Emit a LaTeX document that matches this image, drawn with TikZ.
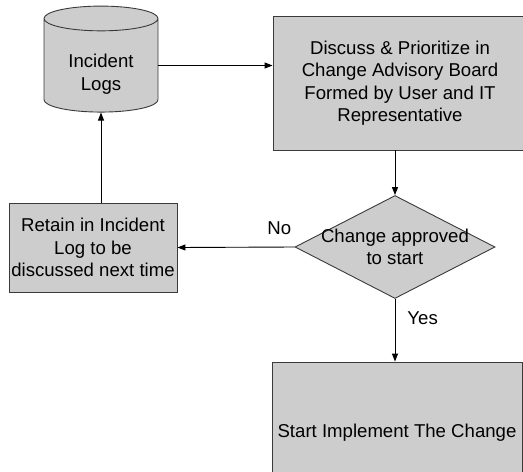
\documentclass[tikz,border=0pt]{standalone}
\usepackage{fontspec}
\setmainfont{Liberation Sans}
\usetikzlibrary{positioning,arrows.meta,shapes.geometric}
\definecolor{cabfill}{HTML}{CDCDCD}
\definecolor{cabline}{HTML}{3A3A3A}
\tikzset{
  base/.style   ={draw=cabline, fill=cabfill, line width=0.9pt, inner sep=0pt,
                  align=center, font=\fontsize{18.6}{22.4}\selectfont},
  stepbox/.style={base, rectangle},
  store/.style  ={base, cylinder, shape border rotate=90, aspect=0.38},
  decision/.style={base, diamond},
  lbl/.style    ={font=\fontsize{18.6}{22.4}\selectfont, inner sep=0pt},
  flow/.style   ={-{Triangle[length=8pt,width=6pt]}, draw=black, line width=0.9pt},
}
\begin{document}
\begin{tikzpicture}[x=1pt,y=-1pt]
  \useasboundingbox (0,0) rectangle (523,472);
  \clip (0,0) rectangle (523,472);

  % boxes
  \node[store, minimum width=114pt, minimum height=106pt] (logs) at (101,65.5)
    {\phantom{Incident}\\\phantom{Logs}};
  \node[lbl, align=center] (logstxt) at (101,74) {Incident\\Logs};
  \node[stepbox, minimum width=254pt, minimum height=134pt] (board) at (400,83)
    {Discuss \& Prioritize in\\Change Advisory Board\\Formed by User and IT\\Representative};
  \node[decision, minimum width=200pt, minimum height=103pt] (approve) at (395,247) {};
  \node[lbl, align=center] (approvetxt) at (approve.center) {Change approved\\to start};
  \node[stepbox, minimum width=168pt, minimum height=89pt] (retain) at (93,247.5)
    {Retain in Incident\\Log to be\\discussed next time};
  \node[stepbox, minimum width=250pt, minimum height=142pt] (start) at (397,433)
    {Start Implement The Change};

  % connectors
  \draw[flow] (logs.east) -- (logs.east -| board.west);
  \draw[flow] (board.south -| approve.north) -- (approve.north);
  \draw[flow] (approve.west) -- node[lbl, pos=0.13, above=12pt] (no) {No} (retain.east);
  \draw[flow] (approve.south) -- node[lbl, pos=0.3, right=12pt] (yes) {Yes} (start.north -| approve.south);
  \draw[flow] (retain.north -| logs.south) -- (logs.south);
\end{tikzpicture}
\end{document}
